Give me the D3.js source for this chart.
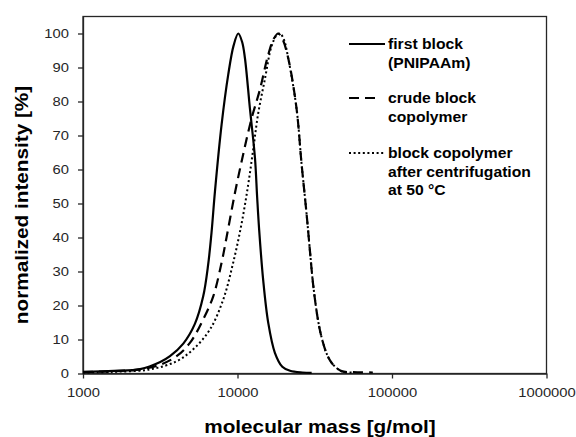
<!DOCTYPE html>
<meta charset="utf-8">
<style>
body { margin: 0; background: #fff; }
svg { font-family: "Liberation Sans", Arial, sans-serif; }
.axis text { font-size: 13.2px; fill: #262626; }
.axis line, .axis path { stroke: #262626; stroke-width: 1.3; }
.title { font-size: 18.5px; font-weight: bold; fill: #000; }
.legend text { font-size: 14px; font-weight: bold; fill: #000; }
</style>
<body>
<svg width="576" height="437"></svg>
<script src="https://cdn.jsdelivr.net/npm/d3@7"></script>
<script>

// first block (PNIPAAm), solid line
var massFirst = [1000, 1585, 2344, 3162, 3656, 4457, 5297, 5998, 6457, 6792, 7145, 7889, 8710, 9441,
  10116, 10715, 11169, 12023, 12972, 13397, 13804, 14655, 15812, 17458, 19498, 21878, 26303, 30200];
var intFirst = [0.5, 0.8, 1.3, 3.4, 5.1, 8.8, 14.6, 22.7, 32.0, 41.5, 53.5, 73.2, 87.9, 96.5,
  100, 97.5, 92.8, 78.1, 63.4, 52.0, 42.4, 27.6, 14.9, 6.1, 2.0, 0.8, 0.3, 0.2];

// crude block copolymer, dashed line
var massCrude = [1000, 1585, 2344, 3162, 4036, 4920, 5998, 6966, 7889, 8492, 9616, 10889, 12331, 13964,
  15812, 17179, 18323, 19498, 21281, 24099, 25942, 27990, 29376, 30903, 33113, 35075, 38019, 41210,
  47098, 56234, 75162];
var intCrude = [0.4, 0.7, 1.2, 2.6, 5.1, 9.0, 15.9, 22.7, 32.6, 40.0, 53.0, 64.5, 75.0, 83.5,
  93.8, 98.5, 100, 98.5, 92.8, 78.0, 62.0, 47.0, 36.5, 26.0, 16.0, 10.5, 5.5, 2.8,
  0.7, 0.4, 0.3];

// block copolymer after centrifugation at 50 °C, dotted line
var massCentr = [1000, 1585, 2710, 4036, 5164, 6622, 8091, 9376, 10617, 11722, 12647, 13614, 15031,
  16596, 17989, 18836, 19953, 21281, 24099, 25942, 27990, 29376, 30903, 33113, 35075, 38019, 41210,
  47098, 56234];
var intCentr = [0.3, 0.5, 1.2, 3.6, 7.1, 12.9, 21.8, 32.6, 44.0, 55.5, 66.0, 76.5, 86.5,
  96.2, 99.6, 100, 98.3, 92.8, 78.0, 62.0, 47.0, 36.5, 26.0, 16.0, 10.5, 5.5, 2.8,
  0.7, 0.3];

var xTicks = [1000, 10000, 100000, 1000000];
var yTicks = [0, 10, 20, 30, 40, 50, 60, 70, 80, 90, 100];

var legendLabels = [
  ["first block", "(PNIPAAm)"],
  ["crude block", "copolymer"],
  ["block copolymer", "after centrifugation", "at 50 °C"]
];

var svg = d3.select("svg"),
    margin = {top: 16.5, right: 29.5, bottom: 63.5, left: 83},
    width = +svg.attr("width") - margin.left - margin.right,
    height = +svg.attr("height") - margin.top - margin.bottom;

var x = d3.scaleLog().domain([1000, 1000000]).range([0, width]),
    y = d3.scaleLinear().domain([0, 105]).range([height, 0]);

var g = svg.append("g")
    .attr("transform", "translate(" + margin.left + "," + margin.top + ")");

// plot frame
g.append("rect")
    .attr("width", width)
    .attr("height", height)
    .attr("fill", "none")
    .attr("stroke", "#262626")
    .attr("stroke-width", 1.3);

g.append("g")
    .attr("class", "axis")
    .attr("transform", "translate(0," + height + ")")
    .call(d3.axisBottom(x).tickValues(xTicks).tickFormat(d3.format("d"))
      .tickSize(5).tickSizeOuter(0).tickPadding(9));

g.append("g")
    .attr("class", "axis")
    .call(d3.axisLeft(y).tickValues(yTicks).tickSize(5).tickSizeOuter(0).tickPadding(9));

var series = [
  {mass: massFirst, val: intFirst, dash: null, w: 2.2},
  {mass: massCrude, val: intCrude, dash: "10,6", w: 2.2},
  {mass: massCentr, val: intCentr, dash: "2,2.6", w: 2}
];

var line = d3.line()
    .x(function(d) { return x(d[0]); })
    .y(function(d) { return y(d[1]); })
    .curve(d3.curveCatmullRom.alpha(0.5));

series.forEach(function(s) {
  g.append("path")
    .datum(d3.zip(s.mass, s.val))
    .attr("fill", "none")
    .attr("stroke", "#000")
    .attr("stroke-width", s.w)
    .attr("stroke-dasharray", s.dash)
    .attr("d", line);
});

// legend
var legend = svg.append("g").attr("class", "legend");
var legendY = [49, 103, 158];
var sampleEnd = [385, 378, 385];
legendLabels.forEach(function(lines, i) {
  legend.append("line")
    .attr("x1", 349).attr("x2", sampleEnd[i])
    .attr("y1", legendY[i] - 5).attr("y2", legendY[i] - 5)
    .attr("stroke", "#000")
    .attr("stroke-width", series[i].w)
    .attr("stroke-dasharray", series[i].dash);
  lines.forEach(function(t, j) {
    legend.append("text")
      .attr("x", 388)
      .attr("y", legendY[i] + j * 18.7)
      .text(t);
  });
});

// axis titles
svg.append("text")
    .attr("class", "title")
    .attr("x", 320)
    .attr("y", 433)
    .attr("text-anchor", "middle")
    .text("molecular mass [g/mol]");

svg.append("text")
    .attr("class", "title")
    .attr("transform", "translate(28,205) rotate(-90)")
    .attr("text-anchor", "middle")
    .text("normalized intensity [%]");

// the original type runs a little wider than Arial
svg.selectAll("text").each(function() {
  d3.select(this)
    .attr("textLength", this.getComputedTextLength() * 1.12)
    .attr("lengthAdjust", "spacingAndGlyphs");
});

</script>
